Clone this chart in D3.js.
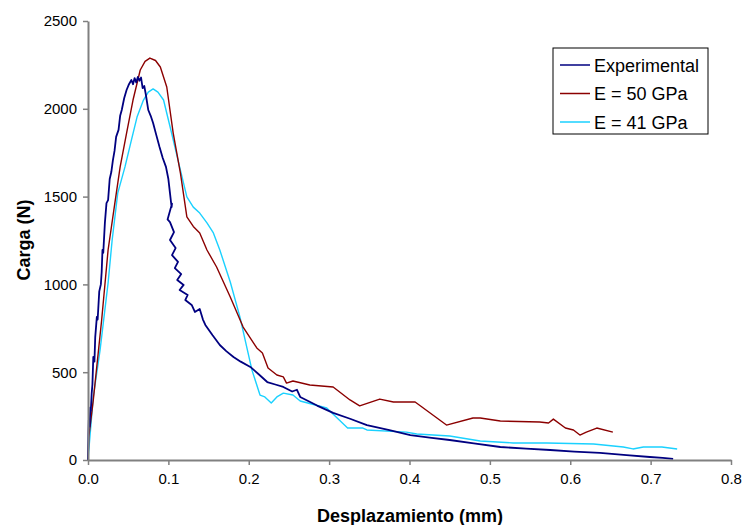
<!DOCTYPE html>
<html lang="en">
<meta charset="UTF-8">
<head>
    <title>Carga vs desplazamiento</title>
    <script src="https://d3js.org/d3.v7.min.js"></script>
    <style>
        body { margin: 0; background: #fff; }
        text { font-family: "Liberation Sans", Arial, sans-serif; }
    </style>
</head>
<body>
    <div id="plot"></div>
    <script>
        // displacement (mm) and load (N)
        var expX = [0, 0.0005, 0.001, 0.002, 0.003, 0.0035, 0.0046, 0.0055, 0.0066, 0.008, 0.009, 0.011, 0.012, 0.014, 0.016,
            0.017, 0.018, 0.019, 0.021, 0.023, 0.025, 0.027, 0.029, 0.031, 0.033, 0.035, 0.038, 0.04, 0.042, 0.045,
            0.048, 0.051, 0.054, 0.056, 0.058, 0.06, 0.062, 0.064, 0.066, 0.068, 0.07, 0.072, 0.075, 0.078, 0.081,
            0.085, 0.089, 0.093, 0.097, 0.1, 0.102, 0.104, 0.1045, 0.099, 0.102, 0.107, 0.102, 0.109, 0.1045, 0.112,
            0.108, 0.116, 0.111, 0.119, 0.114, 0.124, 0.121, 0.129, 0.133, 0.139, 0.143, 0.146, 0.155, 0.164, 0.172,
            0.181, 0.19, 0.202, 0.212, 0.223, 0.233, 0.243, 0.254, 0.26, 0.264, 0.285, 0.305, 0.326, 0.347, 0.375,
            0.401, 0.425, 0.45, 0.48, 0.513, 0.545, 0.575, 0.605, 0.637, 0.67, 0.699, 0.715, 0.728];
        var expY = [0, 150, 228, 190, 300, 280, 380, 430, 587, 560, 700, 815, 800, 960, 1000,
            1070, 1196, 1180, 1350, 1463, 1480, 1600, 1640, 1708, 1760, 1840, 1880, 1960, 1993, 2060,
            2107, 2140, 2164, 2140, 2175, 2150, 2181, 2160, 2178, 2118, 2130, 2080, 1993, 1960, 1919,
            1850, 1782, 1720, 1669, 1600, 1520, 1440, 1460, 1370, 1355, 1298, 1253, 1207, 1167, 1128,
            1093, 1059, 1025, 997, 968, 940, 911, 883, 843, 860, 800, 769, 710, 655, 620,
            587, 560, 530, 490, 444, 430, 416, 390, 400, 359, 310, 268, 235, 199, 170,
            142, 128, 114, 95, 74, 65, 57, 48, 40, 28, 17, 12, 6];

        var e50X = [0, 0.001, 0.0066, 0.017, 0.025, 0.033, 0.04, 0.048, 0.056, 0.065, 0.071, 0.077, 0.084, 0.09, 0.098,
            0.106, 0.115, 0.123, 0.131, 0.139, 0.148, 0.16, 0.177, 0.193, 0.21, 0.217, 0.224, 0.235, 0.243, 0.247,
            0.255, 0.276, 0.305, 0.326, 0.338, 0.363, 0.38, 0.396, 0.407, 0.446, 0.479, 0.488, 0.513, 0.562, 0.573,
            0.579, 0.594, 0.604, 0.612, 0.62, 0.633, 0.653];
        var e50Y = [0, 131, 342, 797, 1196, 1450, 1669, 1862, 2050, 2221, 2270, 2289, 2275, 2238, 2124,
            1862, 1634, 1384, 1330, 1293, 1196, 1099, 928, 757, 638, 609, 524, 484, 473, 438,
            450, 427, 416, 342, 308, 347, 330, 330, 330, 199, 239, 239, 222, 216, 211,
            233, 182, 171, 142, 159, 182, 159];

        var e41X = [0, 0.001, 0.0066, 0.015, 0.025, 0.03, 0.037, 0.046, 0.054, 0.061, 0.069, 0.075, 0.081, 0.087, 0.094,
            0.104, 0.114, 0.123, 0.131, 0.139, 0.148, 0.156, 0.164, 0.177, 0.189, 0.204, 0.214, 0.22, 0.228, 0.235,
            0.243, 0.255, 0.264, 0.297, 0.323, 0.342, 0.347, 0.396, 0.409, 0.45, 0.488, 0.529, 0.571, 0.629, 0.666,
            0.678, 0.691, 0.714, 0.733];
        var e41Y = [0, 57, 359, 626, 1008, 1250, 1520, 1669, 1822, 1953, 2050, 2095, 2113, 2095, 2050,
            1862, 1669, 1498, 1440, 1406, 1350, 1293, 1196, 1014, 815, 512, 370, 359, 325, 359,
            381, 370, 336, 296, 182, 182, 171, 159, 148, 137, 108, 97, 97, 91, 74,
            63, 74, 74, 63];

        var seriesNames = ["Experimental", "E = 50 GPa", "E = 41 GPa"];
        var xTicks = [0, 0.1, 0.2, 0.3, 0.4, 0.5, 0.6, 0.7, 0.8];
        var yTicks = [0, 500, 1000, 1500, 2000, 2500];

        var width = 745, height = 525;
        var margin = { left: 88, right: 14, top: 21, bottom: 65 };

        var svg = d3.select('#plot').append('svg')
            .attr('width', width)
            .attr('height', height);

        var x = d3.scaleLinear().domain([0, 0.8]).range([margin.left, width - margin.right]);
        var y = d3.scaleLinear().domain([0, 2500]).range([height - margin.bottom, margin.top]);

        var colors = ["#000080", "#8b0000", "#1ad1ff"];
        var widths = [1.8, 1.4, 1.4];

        var series = [
            d3.zip(expX, expY),
            d3.zip(e50X, e50Y),
            d3.zip(e41X, e41Y)
        ];

        var line = d3.line().x(d => x(d[0])).y(d => y(d[1]));

        // draw cyan and red first, experimental on top
        [2, 1, 0].forEach(function (i) {
            svg.append("path")
                .datum(series[i])
                .attr("fill", "none")
                .attr("stroke", colors[i])
                .attr("stroke-width", widths[i])
                .attr("stroke-linejoin", "round")
                .attr("d", line);
        });

        // axes
        var xAxis = svg.append("g")
            .attr("transform", "translate(0," + y(0) + ")")
            .call(d3.axisBottom(x).tickValues(xTicks).tickFormat(d3.format(".1f")).tickSize(5).tickSizeOuter(0));
        var yAxis = svg.append("g")
            .attr("transform", "translate(" + x(0) + ",0)")
            .call(d3.axisLeft(y).tickValues(yTicks).tickFormat(d3.format("d")).tickSize(5).tickSizeOuter(0));

        [xAxis, yAxis].forEach(function (g) {
            g.select(".domain").attr("stroke", "#808080").attr("stroke-width", 2);
            g.selectAll(".tick line").attr("stroke", "#808080").attr("stroke-width", 1.5);
            g.selectAll(".tick text").attr("fill", "#000").style("font-size", "15px");
        });
        xAxis.selectAll(".tick text").attr("dy", "1.05em");
        yAxis.selectAll(".tick text").attr("dx", "-0.2em");

        svg.append("text")
            .attr("x", 410).attr("y", 522)
            .attr("text-anchor", "middle")
            .style("font-size", "18px").style("font-weight", "bold")
            .text("Desplazamiento (mm)");

        svg.append("text")
            .attr("transform", "translate(30,240) rotate(-90)")
            .attr("text-anchor", "middle")
            .style("font-size", "18px").style("font-weight", "bold")
            .text("Carga (N)");

        // legend
        var legend = svg.append("g").attr("transform", "translate(553,48)");
        legend.append("rect")
            .attr("width", 155).attr("height", 86)
            .attr("fill", "#fff").attr("stroke", "#000").attr("stroke-width", 1);
        seriesNames.forEach(function (name, i) {
            var yy = 17 + i * 28.5;
            legend.append("line")
                .attr("x1", 7).attr("x2", 37).attr("y1", yy).attr("y2", yy)
                .attr("stroke", colors[i]).attr("stroke-width", 1.5);
            legend.append("text")
                .attr("x", 41).attr("y", yy + 6.5)
                .style("font-size", "18px")
                .text(name);
        });
    </script>
</body>
</html>
